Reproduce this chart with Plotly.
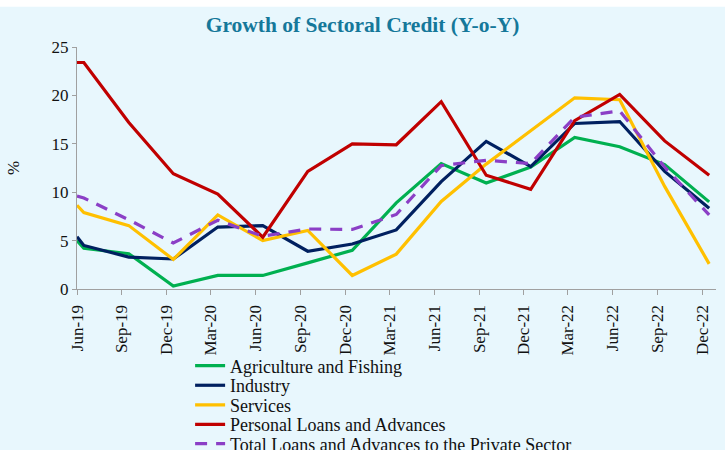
import plotly.graph_objects as go

# Quarter tick labels
tick_labels = ["Jun-19", "Sep-19", "Dec-19", "Mar-20", "Jun-20", "Sep-20", "Dec-20",
               "Mar-21", "Jun-21", "Sep-21", "Dec-21", "Mar-22", "Jun-22", "Sep-22", "Dec-22"]
tick_dates = ["2019-06-01", "2019-09-01", "2019-12-01", "2020-03-01", "2020-06-01",
              "2020-09-01", "2020-12-01", "2021-03-01", "2021-06-01", "2021-09-01",
              "2021-12-01", "2022-03-01", "2022-06-01", "2022-09-01", "2022-12-01"]
# observation dates (first entry is the value at the axis start)
obs_dates = ["2019-06-01", "2019-06-15", "2019-09-15", "2019-12-15", "2020-03-15", "2020-06-15",
             "2020-09-15", "2020-12-15", "2021-03-15", "2021-06-15", "2021-09-15",
             "2021-12-15", "2022-03-15", "2022-06-15", "2022-09-15", "2022-12-15"]

agriculture = [5.0, 4.2, 3.65, 0.3, 1.4, 1.4, 2.7, 4.0, 8.9, 12.95, 10.95, 12.6, 15.65, 14.7, 12.85, 9.0]
industry = [5.4, 4.5, 3.3, 3.1, 6.4, 6.55, 3.9, 4.65, 6.1, 11.1, 15.25, 12.65, 17.1, 17.3, 12.15, 8.35]
services = [8.65, 7.9, 6.55, 3.05, 7.65, 5.0, 6.05, 1.4, 3.6, 9.05, 12.9, 16.3, 19.75, 19.55, 10.6, 2.6]
personal = [23.4, 23.4, 17.2, 11.9, 9.8, 5.35, 12.15, 15.0, 14.9, 19.35, 11.75, 10.3, 17.4, 20.1, 15.3, 11.75]
total = [9.6, 9.4, 7.15, 4.75, 7.1, 5.45, 6.2, 6.15, 7.7, 12.75, 13.3, 12.95, 17.75, 18.4, 12.6, 7.65]

series_names = ["Agriculture and Fishing", "Industry", "Services",
                "Personal Loans and Advances", "Total Loans and Advances to the Private Sector"]
series_values = [agriculture, industry, services, personal, total]
series_colors = ["#00B050", "#002060", "#FFC000", "#C00000", "#8B3FC6"]
series_dashes = ["solid", "solid", "solid", "solid", "12px,9px"]

font_family = "Liberation Serif, DejaVu Serif, serif"
bg = "#E8F7FD"

# one legend per entry so the row spacing can match the original
legend_ids = ["legend", "legend2", "legend3", "legend4", "legend5"]
legend_rows_y = [-0.318, -0.399, -0.480, -0.561, -0.640]

fig = go.Figure()
for name, vals, color, dash, lid in zip(series_names, series_values, series_colors,
                                        series_dashes, legend_ids):
    fig.add_trace(go.Scatter(
        x=obs_dates, y=vals, mode="lines", name=name, legend=lid,
        line=dict(color=color, width=3.2, dash=dash),
    ))

legend_layout = {}
for lid, ly in zip(legend_ids, legend_rows_y):
    legend_layout[lid] = dict(
        orientation="v", x=0.177, xanchor="left", y=ly, yanchor="middle",
        bgcolor="rgba(0,0,0,0)", borderwidth=0,
        font=dict(family=font_family, size=18, color="#111111"),
    )

fig.update_layout(
    width=725, height=450,
    paper_bgcolor=bg, plot_bgcolor=bg,
    margin=dict(l=77, r=9, t=47, b=161, autoexpand=False),
    font=dict(family=font_family, size=17, color="#111111"),
    title=dict(text="<b>Growth of Sectoral Credit (Y-o-Y)</b>", x=0.5, xanchor="center",
               y=0.945, yanchor="middle",
               font=dict(family=font_family, size=21.5, color="#15789A")),
    showlegend=True,
    shapes=[dict(type="rect", xref="paper", yref="paper", x0=-0.2, x1=1.1,
                 y0=1.166, y1=1.3, fillcolor="white", line=dict(width=0), layer="above")],
    **legend_layout,
)

fig.update_xaxes(
    type="date",
    range=["2019-06-01", "2022-12-29"],
    tickvals=tick_dates, ticktext=tick_labels, tickangle=-90,
    showgrid=False, zeroline=False,
    showline=True, linecolor="#A0A0A0", linewidth=1.3,
    ticks="outside", ticklen=5, tickcolor="#A0A0A0", ticklabelstandoff=3,
    tickfont=dict(family=font_family, size=17, color="#111111"),
)
fig.update_yaxes(
    range=[0, 25], dtick=5, tick0=0,
    showgrid=False, zeroline=False,
    showline=True, linecolor="#A0A0A0", linewidth=1.3,
    ticks="outside", ticklen=4, tickcolor="#A0A0A0",
    tickfont=dict(family=font_family, size=17, color="#111111"),
    title=dict(text="%", font=dict(family=font_family, size=17, color="#111111"), standoff=27),
)

fig.write_html("out.html", config={"displayModeBar": False},
               post_script="document.body.style.margin='0';")
